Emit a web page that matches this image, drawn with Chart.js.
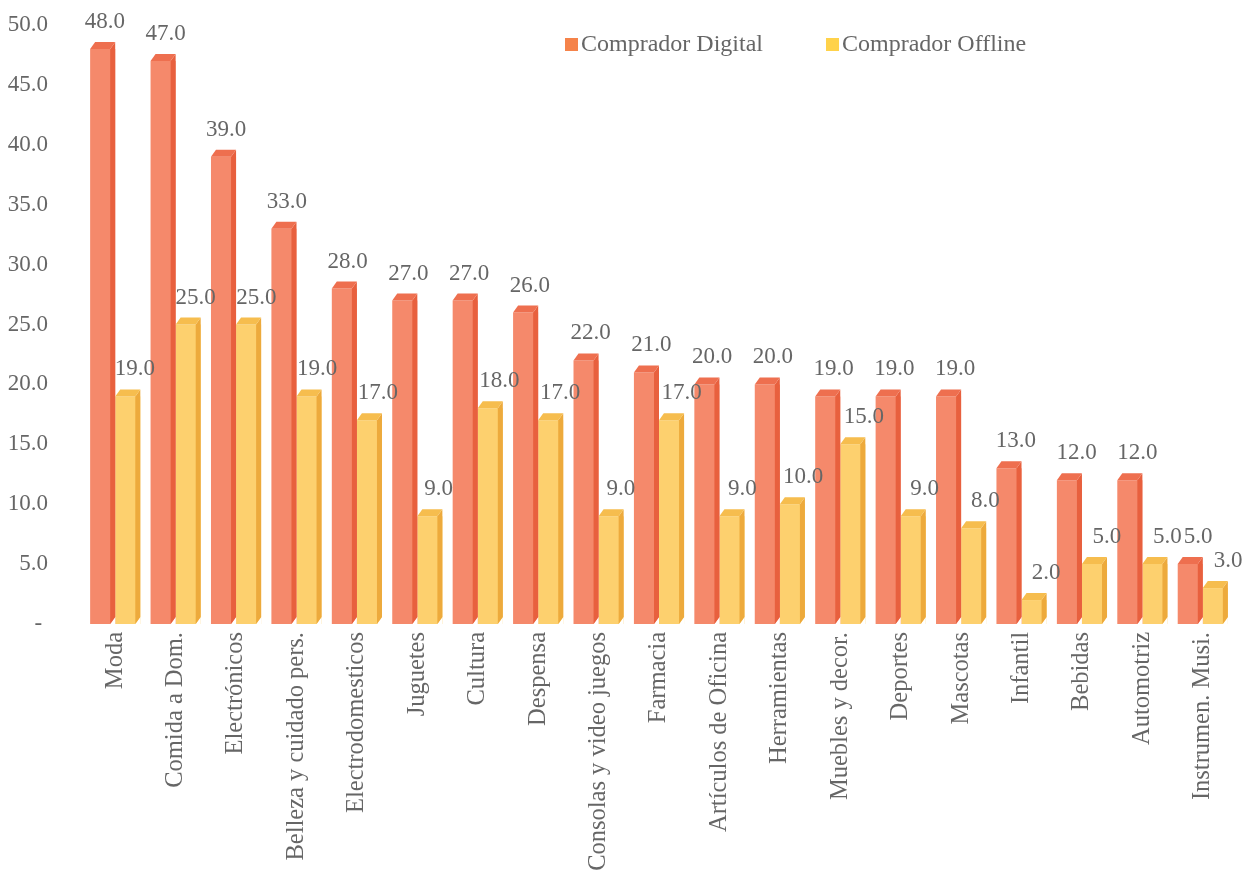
<!DOCTYPE html>
<html lang="es">
<head>
  <meta charset="UTF-8">
  <title>Comprador Digital vs Offline</title>
  <script src="https://cdn.jsdelivr.net/npm/chart.js"></script>
  <style>
    html, body {
      margin: 0;
      padding: 0;
      background: #ffffff;
    }
    #wrap {
      width: 1254px;
      height: 871px;
    }
  </style>
</head>
<body>
  <div id="wrap">
    <canvas id="grafico"></canvas>
  </div>

  <script>
    const categorias = [
      'Moda', 'Comida a Dom.', 'Electrónicos', 'Belleza y cuidado pers.',
      'Electrodomesticos', 'Juguetes', 'Cultura', 'Despensa',
      'Consolas y video juegos', 'Farmacia', 'Artículos de Oficina',
      'Herramientas', 'Muebles y decor.', 'Deportes', 'Mascotas',
      'Infantil', 'Bebidas', 'Automotriz', 'Instrumen. Musi.'
    ];
    const digital = [48, 47, 39, 33, 28, 27, 27, 26, 22, 21, 20, 20, 19, 19, 19, 13, 12, 12, 5];
    const offline = [19, 25, 25, 19, 17, 9, 18, 17, 9, 17, 9, 10, 15, 9, 8, 2, 5, 5, 3];
    const yMin = 0;
    const yMax = 50;
    const yPaso = 5;

    const SERIF = '"Liberation Serif", "Times New Roman", serif';
    const GRIS = '#666666';

    // colores: frente, lateral, tapa, leyenda
    const caras = [
      { frente: '#F5896B', lado: '#E8603E', tapa: '#EE6F4F', leyenda: '#F5834A' },
      { frente: '#FDD06E', lado: '#EDAA3C', tapa: '#F6BD4E', leyenda: '#FFD24A' }
    ];

    // dibuja el lateral y la tapa de cada barra (efecto 3D) y las etiquetas
    const barras3D = {
      id: 'barras3D',
      afterDatasetsDraw(chart) {
        const ctx = chart.ctx;
        const area = chart.chartArea;
        const d = 5, h = 7;
        ctx.save();
        chart.data.datasets.forEach((ds, i) => {
          const meta = chart.getDatasetMeta(i);
          const c = caras[i];
          meta.data.forEach((bar) => {
            const L = bar.x - bar.width / 2;
            const R = bar.x + bar.width / 2;
            const y = bar.y, b = bar.base;
            ctx.fillStyle = '#ffffff';
            ctx.beginPath();
            ctx.moveTo(R - d, b); ctx.lineTo(R, b - h); ctx.lineTo(R, b); ctx.closePath();
            ctx.fill();
            // lateral
            ctx.fillStyle = c.lado;
            ctx.beginPath();
            ctx.moveTo(R - d, y); ctx.lineTo(R, y - h); ctx.lineTo(R, b - h); ctx.lineTo(R - d, b);
            ctx.closePath();
            ctx.fill();
            // tapa
            ctx.fillStyle = c.tapa;
            ctx.beginPath();
            ctx.moveTo(L, y); ctx.lineTo(L + d, y - h); ctx.lineTo(R, y - h); ctx.lineTo(R - d, y);
            ctx.closePath();
            ctx.fill();
          });
        });
        // etiquetas de valor (corridas un poco a la derecha, como en la perspectiva 3D)
        ctx.font = '23px ' + SERIF;
        ctx.fillStyle = GRIS;
        ctx.textAlign = 'center';
        ctx.textBaseline = 'alphabetic';
        chart.data.datasets.forEach((ds, i) => {
          const meta = chart.getDatasetMeta(i);
          meta.data.forEach((bar, j) => {
            const f = (bar.x - area.left) / (area.right - area.left);
            const dx = (i === 0 ? 2 : 7) + 6 * f;
            ctx.fillText(ds.data[j].toFixed(1), bar.x + dx, bar.y - h - 14);
          });
        });
        ctx.restore();
      }
    };

    // leyenda dentro del grafico, arriba a la derecha
    const leyenda = {
      id: 'leyenda',
      afterDraw(chart) {
        const ctx = chart.ctx;
        const xs = [565, 826];
        const yc = 44;
        ctx.save();
        ctx.font = '24px ' + SERIF;
        ctx.textAlign = 'left';
        ctx.textBaseline = 'middle';
        chart.data.datasets.forEach((ds, i) => {
          ctx.fillStyle = caras[i].leyenda;
          ctx.fillRect(xs[i], yc - 6, 13, 13);
          ctx.fillStyle = GRIS;
          ctx.fillText(ds.label, xs[i] + 16, yc + 1);
        });
        ctx.restore();
      }
    };

    new Chart(document.getElementById('grafico'), {
      type: 'bar',
      data: {
        labels: categorias,
        datasets: [
          {
            label: 'Comprador Digital',
            data: digital,
            backgroundColor: caras[0].frente,
            borderWidth: 0
          },
          {
            label: 'Comprador Offline',
            data: offline,
            backgroundColor: caras[1].frente,
            borderWidth: 0
          }
        ]
      },
      plugins: [barras3D, leyenda],
      options: {
        responsive: true,
        maintainAspectRatio: false,
        animation: false,
        categoryPercentage: 0.83,
        barPercentage: 1.0,
        layout: {
          padding: { top: 25, left: 6, right: 21, bottom: 0 }
        },
        plugins: {
          tooltip: { enabled: false },
          legend: { display: false }
        },
        scales: {
          x: {
            grid: { display: false },
            border: { display: false },
            afterFit(scale) { scale.height = 247; },
            ticks: {
              autoSkip: false,
              minRotation: 90,
              maxRotation: 90,
              padding: 0,
              color: GRIS,
              font: { family: SERIF, size: 24.5 }
            }
          },
          y: {
            min: yMin,
            max: yMax,
            grid: { display: false },
            border: { display: false },
            afterFit(scale) {
              scale.width = 79;
              scale.paddingTop = 0;
              scale.paddingBottom = 0;
            },
            ticks: {
              stepSize: yPaso,
              padding: 29,
              color: GRIS,
              font: { family: SERIF, size: 23 },
              callback: (v) => (v === 0 ? '- ' : v.toFixed(1))
            }
          }
        }
      }
    });
  </script>
</body>
</html>
